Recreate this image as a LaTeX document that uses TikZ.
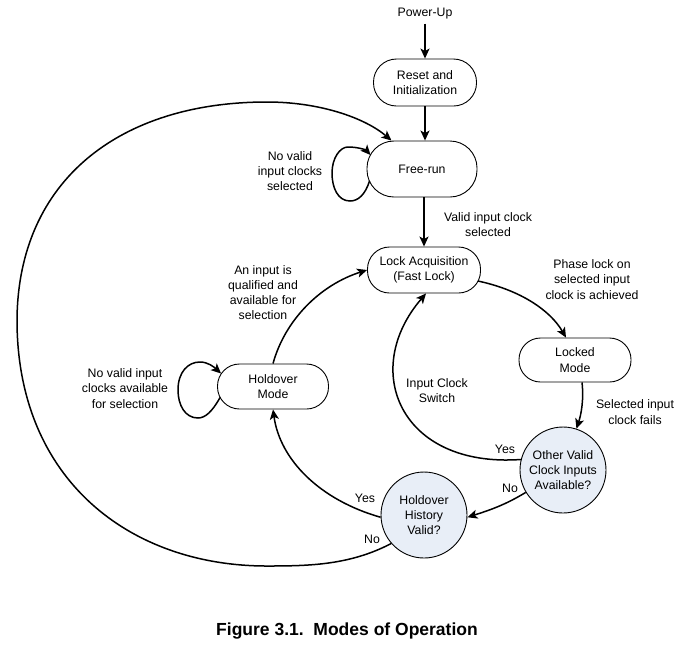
\documentclass[tikz,border=0pt]{standalone}
\usepackage{fontspec}
\setmainfont{Liberation Sans}
\usetikzlibrary{arrows.meta,calc}
\definecolor{decfill}{RGB}{232,238,247}
\begin{document}
\begin{tikzpicture}[x=1pt,y=-1pt,
  every node/.style={font=\fontsize{12.3}{15.2}\selectfont, align=center, inner sep=0pt},
  stadium/.style={draw, line width=0.9pt, rectangle, rounded corners=#1},
  decision/.style={draw, line width=0.9pt, circle, fill=decfill, minimum size=86pt},
  arr/.style={line width=1.5pt, -{Stealth[length=10pt,width=9pt,inset=2.5pt]}},
  lbl/.style={font=\fontsize{12.3}{15.2}\selectfont}
]
\useasboundingbox (0,0) rectangle (684,646);

% states
\node (power) at (425,14) {Power-Up};
\node[stadium=23pt, minimum width=103pt, minimum height=47pt] (reset) at (425,82.5) {Reset and\\Initialization};
\node[stadium=27pt, minimum width=110pt, minimum height=56pt] (free) at (422,169) {Free-run};
\node[stadium=22pt, minimum width=113pt, minimum height=46pt] (lock) at (424,270) {Lock Acquisition\\(Fast Lock)};
\node[stadium=21.5pt, minimum width=112pt, minimum height=44pt] (locked) at (575,360) {Locked\\Mode};
\node[stadium=22pt, minimum width=111pt, minimum height=45pt] (hold) at (273,386.5) {Holdover\\Mode};
\node[decision] (other) at (563,470) {Other Valid\\Clock Inputs\\Available?};
\node[decision] (hist) at (424,515) {Holdover\\History\\Valid?};

% labels
\node[lbl] (l1) at (290,171) {No valid\\input clocks\\selected};
\node[lbl] (l2) at (488,224.5) {Valid input clock\\selected};
\node[lbl] (l3) at (263,292.5) {An input is\\qualified and\\available for\\selection};
\node[lbl] (l4) at (592,279.5) {Phase lock on\\selected input\\clock is achieved};
\node[lbl] (l5) at (125,388.5) {No valid input\\clocks available\\for selection};
\node[lbl] (l6) at (437,390.5) {Input Clock\\Switch};
\node[lbl] (l7) at (635,412) {Selected input\\clock fails};
\node[lbl] (y1) at (505,449) {Yes};
\node[lbl] (n1) at (510,488) {No};
\node[lbl] (y2) at (365,498) {Yes};
\node[lbl] (n2) at (372,539) {No};
\node[font=\fontsize{17.5}{20}\selectfont\bfseries] (cap) at (347,631) {Figure 3.1.\ \ Modes of Operation};

% connectors
\draw[arr] ($(power.south)+(0,4)$) -- (reset.north);
\draw[arr] (reset.south) -- (reset.south |- free.north);
\draw[arr] (lock.north |- free.south) -- (lock.north);

\draw[arr] ($(free.west)+(3,12)$) .. controls (365,195) and (358,201) .. (350,201)
  .. controls (338,201) and (332,188) .. (332,173)
  .. controls (332,158) and (340,147) .. (348,147)
  .. controls (358,147) and (366,150) .. ($(free.west)+(4,-14)$);

\draw[arr] ($(hold.west)+(3,11)$) .. controls (212,412) and (205,418) .. (198,418)
  .. controls (185,418) and (178,405) .. (178,390)
  .. controls (178,372) and (188,362) .. (200,362)
  .. controls (208,362) and (214,367) .. ($(hold.west)+(4,-13)$);

\draw[arr] ($(lock.east)+(-3,11)$) .. controls (520,290) and (550,310) .. ($(locked.north)+(-9,0)$);
\draw[arr] ($(locked.south)+(7,0)$) .. controls (584,400) and (581,415) .. (other.72);
\draw[arr] (other.211) .. controls (505,505) and (490,510) .. (hist.357);
\draw[arr] (other.166) .. controls (400,468) and (360,370) .. ($(lock.south)+(2,0)$);
\draw[arr] (hist.183) .. controls (320,500) and (280,460) .. (hold.south);
\draw[arr] (hold.north) .. controls (285,320) and (320,285) .. (lock.west);

\draw[arr] (hist.221) .. controls (350,565) and (310,566) .. (267,566)
  .. controls (130,566) and (17,480) .. (17,320)
  .. controls (18,180) and (120,102) .. (267,102)
  .. controls (320,102) and (365,118) .. (free.137);
\end{tikzpicture}
\end{document}
